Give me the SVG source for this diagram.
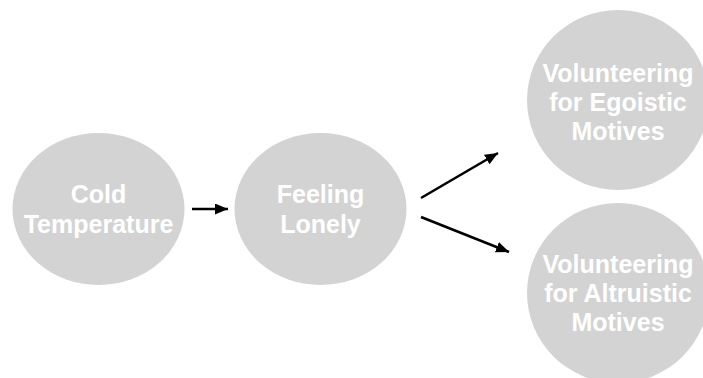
<svg xmlns="http://www.w3.org/2000/svg" width="703" height="378" viewBox="0 0 703 378">
<style>
.node{fill:#d3d3d3}
.lbl{fill:#ffffff;font-family:"Liberation Sans",Arial,Helvetica,sans-serif;font-weight:bold;font-size:25px;text-anchor:middle}
.conn{stroke:#000;stroke-width:2.6;fill:none;marker-end:url(#ah)}
</style>
<defs>
<marker id="ah" markerUnits="userSpaceOnUse" markerWidth="13" markerHeight="11" refX="13" refY="5.5" orient="auto">
<path d="M0,0 L13,5.5 L0,11 z" fill="#000"/>
</marker>
</defs>
<rect width="703" height="378" fill="#fff"/>
<g id="cold">
<ellipse class="node" cx="98.5" cy="209" rx="86" ry="76"/>
<text class="lbl" x="98.5" y="203">Cold</text>
<text class="lbl" x="98.5" y="233">Temperature</text>
</g>
<g id="lonely">
<ellipse class="node" cx="320.5" cy="209" rx="86" ry="76"/>
<text class="lbl" x="320.5" y="203">Feeling</text>
<text class="lbl" x="320.5" y="233">Lonely</text>
</g>
<g id="egoistic">
<ellipse class="node" cx="618" cy="100" rx="91" ry="90"/>
<text class="lbl" x="618" y="82">Volunteering</text>
<text class="lbl" x="618" y="111">for Egoistic</text>
<text class="lbl" x="618" y="140">Motives</text>
</g>
<g id="altruistic">
<ellipse class="node" cx="618" cy="293" rx="91" ry="90"/>
<text class="lbl" x="618" y="273">Volunteering</text>
<text class="lbl" x="618" y="302">for Altruistic</text>
<text class="lbl" x="618" y="331">Motives</text>
</g>
<g id="connectors">
<line class="conn" x1="192" y1="209" x2="228" y2="209"/>
<line class="conn" x1="421" y1="198" x2="498" y2="153"/>
<line class="conn" x1="421" y1="217" x2="509" y2="252"/>
</g>
</svg>
